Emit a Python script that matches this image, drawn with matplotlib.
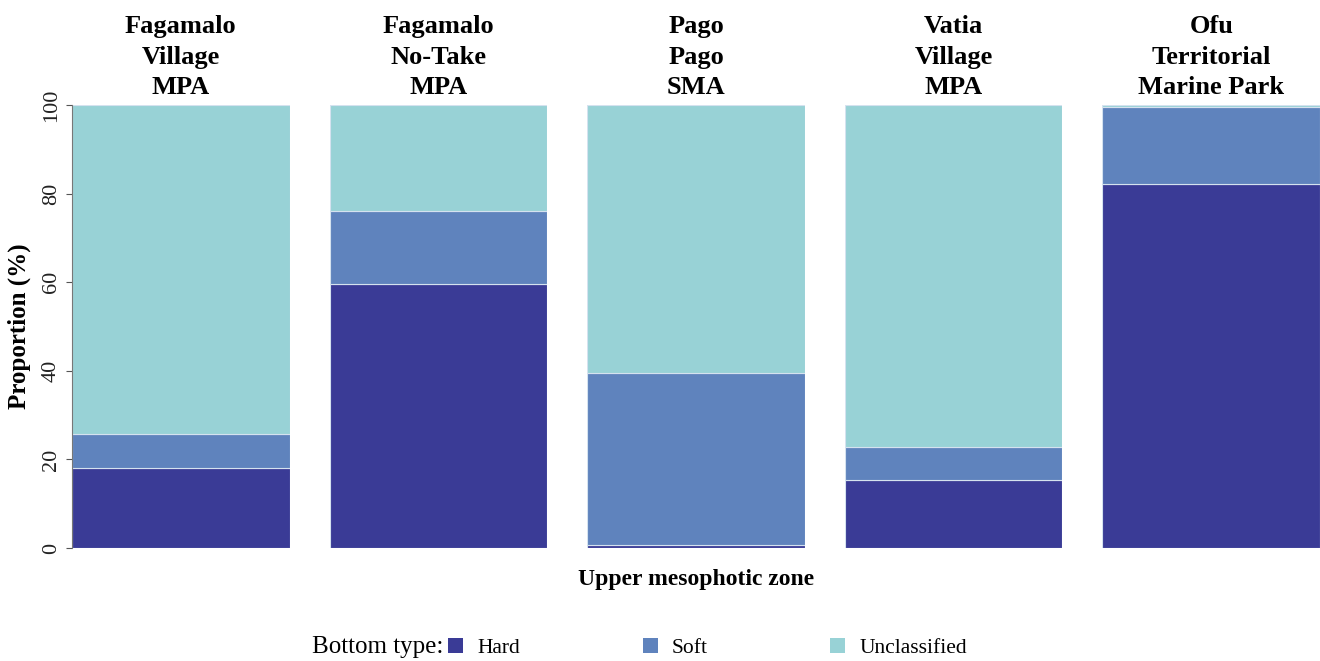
import matplotlib.pyplot as plt
from matplotlib.patches import Patch

plt.rcParams['font.family'] = ['Liberation Serif', 'DejaVu Serif']

sites = ['Fagamalo\nVillage\nMPA', 'Fagamalo\nNo-Take\nMPA', 'Pago\nPago\nSMA',
         'Vatia\nVillage\nMPA', 'Ofu\nTerritorial\nMarine Park']
hard = [18.0, 59.6, 0.7, 15.3, 82.2]
soft = [7.7, 16.5, 38.8, 7.5, 17.3]
unclassified = [74.3, 23.9, 60.5, 77.2, 0.5]

types = ['Hard', 'Soft', 'Unclassified']
colors = ['#3a3b96', '#5f83bd', '#98d2d6']

fig = plt.figure(figsize=(13.2, 6.61), dpi=100)
left, right, bottom, top = 72 / 1320, 1.0, 1 - 548 / 661, 1 - 105 / 661
gap = 40 / 1320
w = (right - left - 4 * gap) / 5

for i, site in enumerate(sites):
    ax = fig.add_axes([left + i * (w + gap), bottom, w, top - bottom])
    base = 0
    for vals, c in zip([hard, soft, unclassified], colors):
        ax.bar(0, vals[i], bottom=base, width=1.0, color=c,
               edgecolor='#d5e2ef', linewidth=0.8)
        base += vals[i]
    ax.set_xlim(-0.5, 0.5)
    ax.set_ylim(0, 100)
    ax.set_xticks([])
    ax.set_title(site, fontsize=19, fontweight='bold', pad=8, linespacing=1.4)
    for s in ['top', 'right', 'bottom']:
        ax.spines[s].set_visible(False)
    if i == 0:
        ax.spines['left'].set_color('#777777')
        ax.set_yticks([0, 20, 40, 60, 80, 100])
        ax.tick_params(axis='y', colors='#555555', labelcolor='#222222',
                       labelsize=16, length=4, pad=4, labelrotation=90)
        for lbl in ax.get_yticklabels():
            lbl.set_va('center')
        ax.set_ylabel('Proportion (%)', fontsize=18, fontweight='bold', labelpad=8)
    else:
        ax.spines['left'].set_visible(False)
        ax.set_yticks([])

fig.text((left + right) / 2, 1 - 580 / 661, 'Upper mesophotic zone',
         ha='center', va='center', fontsize=17, fontweight='bold')

fig.text(312 / 1320, 1 - 647 / 661, 'Bottom type:', ha='left', va='center', fontsize=18)
handles = [Patch(facecolor=c, edgecolor='none') for c in colors]
fig.legend(handles, types, loc='center left', bbox_to_anchor=(448 / 1320, 1 - 648 / 661),
           ncol=3, frameon=False, fontsize=15.5, handlelength=0.7, handleheight=0.7,
           handletextpad=0.65, columnspacing=5.7, borderpad=0, borderaxespad=0)

fig.savefig('out.png', dpi=100)
